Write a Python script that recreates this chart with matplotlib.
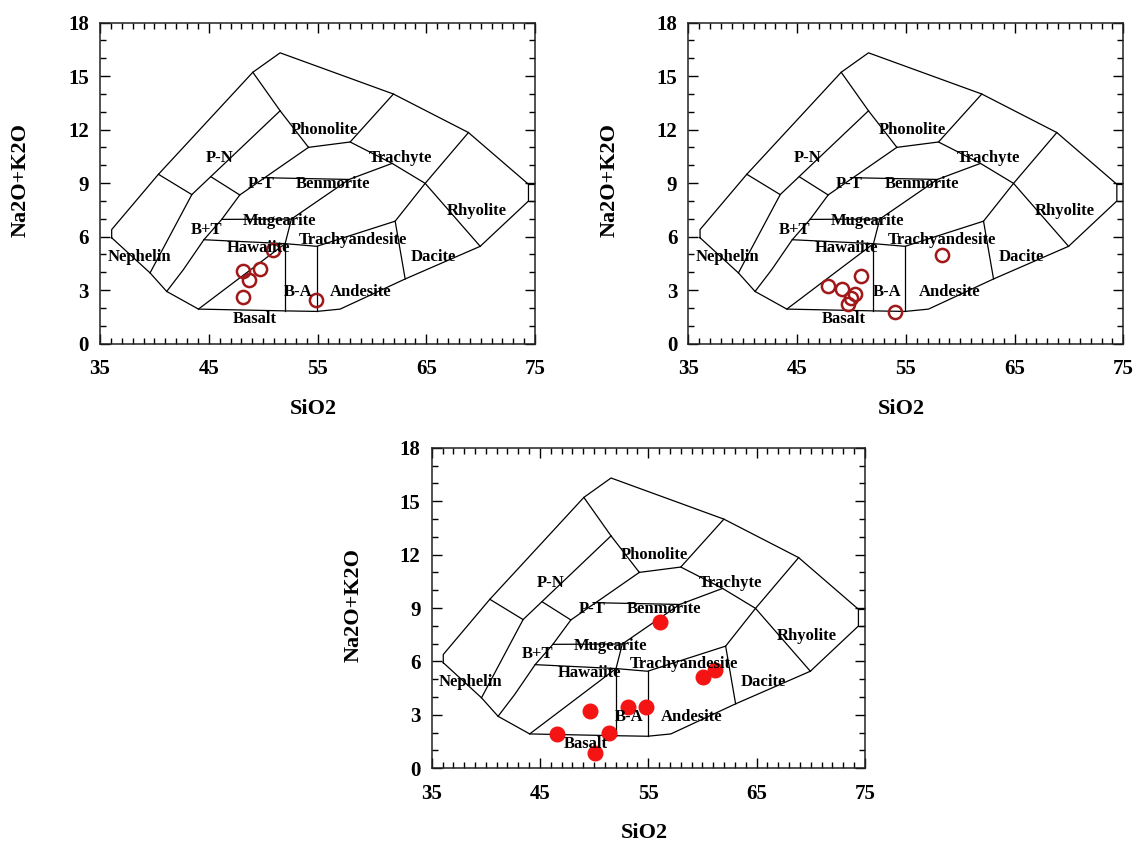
import numpy as np
import matplotlib
matplotlib.use('Agg')
from matplotlib import pyplot as plt

plt.rcParams['font.family'] = ['Liberation Serif', 'DejaVu Serif']
plt.rcParams['font.weight'] = 'bold'

# samples (SiO2, Na2O+K2O)
sio2_a = [50.94, 49.72, 48.13, 48.71, 48.19, 54.87]
alk_a = [5.27, 4.18, 4.05, 3.54, 2.61, 2.42]

sio2_b = [58.30, 50.85, 47.88, 49.17, 50.33, 49.96, 49.72, 54.01]
alk_b = [4.99, 3.80, 3.24, 3.05, 2.79, 2.55, 2.23, 1.74]

sio2_c = [56.08, 61.16, 60.08, 49.62, 53.15, 54.76, 46.60, 51.40, 50.08]
alk_c = [8.24, 5.52, 5.11, 3.24, 3.43, 3.43, 1.93, 2.00, 0.88]

x_ticks = [35, 45, 55, 65, 75]
y_ticks = [0, 3, 6, 9, 12, 15, 18]

# TAS field boundaries (Cox et al. style)
outline = [(36.07, 5.93), (36.07, 6.39), (40.37, 9.49), (49.05, 15.21),
           (51.56, 16.30), (61.98, 13.99), (68.88, 11.83), (74.40, 8.93),
           (74.40, 7.99), (69.96, 5.45), (63.06, 3.62), (57.08, 1.93),
           (54.93, 1.80), (52.02, 1.83), (44.05, 1.93), (41.13, 2.92),
           (39.60, 3.96), (36.07, 5.93)]
boundaries = [
    [(74.40, 8.93), (75.0, 8.93)],
    [(74.40, 7.99), (75.0, 7.99)],
    [(40.37, 9.49), (43.44, 8.35)],
    [(39.60, 3.96), (43.44, 8.35), (51.56, 13.05)],
    [(49.05, 15.21), (51.56, 13.05), (54.17, 11.0)],
    [(45.20, 9.35), (47.85, 8.33)],
    [(41.13, 2.92), (42.66, 4.14), (44.55, 5.82), (46.19, 6.96),
     (47.85, 8.33), (54.17, 11.0)],
    [(54.17, 11.0), (58.0, 11.3), (61.86, 10.1), (64.9, 8.98), (68.88, 11.83)],
    [(58.0, 11.3), (61.98, 13.99)],
    [(49.9, 9.30), (57.9, 9.2)],
    [(46.19, 6.96), (52.6, 6.98)],
    [(52.02, 5.60), (52.6, 6.98), (57.9, 9.2), (61.86, 10.1)],
    [(44.55, 5.82), (52.02, 5.60), (54.93, 5.45), (62.14, 6.86), (64.9, 8.98),
     (69.96, 5.45)],
    [(62.14, 6.86), (63.06, 3.62)],
    [(52.02, 5.60), (52.02, 1.83)],
    [(54.93, 5.45), (54.93, 1.80)],
    [(44.05, 1.93), (52.02, 5.60)],
]
field_names = ['Phonolite', 'P-N', 'Trachyte', 'P-T', 'Benmorite', 'Rhyolite',
               'Mugearite', 'B+T', 'Trachyandesite', 'Hawaiite', 'Nephelin',
               'Dacite', 'B-A', 'Andesite', 'Basalt']
field_x = [55.6, 45.98, 62.6, 49.8, 56.47, 69.6, 51.5, 44.8, 58.3, 49.56,
           38.6, 65.66, 53.25, 58.98, 49.26]
field_y = [11.98, 10.43, 10.39, 8.92, 8.92, 7.42, 6.86, 6.39, 5.83, 5.36,
           4.86, 4.86, 2.87, 2.87, 1.37]


def draw_tas(ax, xlab_y, ylab_x):
    ox, oy = zip(*outline)
    ax.plot(ox, oy, color='black', lw=0.9)
    for seg in boundaries:
        sx, sy = zip(*seg)
        ax.plot(sx, sy, color='black', lw=0.9)
    for name, fx, fy in zip(field_names, field_x, field_y):
        ax.text(fx, fy, name, ha='center', va='center', fontsize=12,
                fontweight='bold')
    ax.set_xlim(35, 75)
    ax.set_ylim(0, 18)
    ax.set_xticks(x_ticks)
    ax.set_yticks(y_ticks)
    ax.set_xticks(np.arange(35, 76, 1), minor=True)
    ax.set_yticks(np.arange(0, 19, 1), minor=True)
    ax.tick_params(which='both', direction='in', top=True, right=True,
                   labelsize=15, width=1)
    ax.tick_params(which='major', length=7)
    ax.tick_params(which='minor', length=4)
    ax.tick_params(axis='x', pad=11)
    ax.tick_params(axis='y', pad=8)
    for lab in ax.get_xticklabels() + ax.get_yticklabels():
        lab.set_fontweight('bold')
    for sp in ax.spines.values():
        sp.set_linewidth(1.1)
        sp.set_color('#222222')
    ax.set_xlabel('SiO2', fontsize=16, fontweight='bold')
    ax.set_ylabel('Na2O+K2O', fontsize=16, fontweight='bold')
    ax.xaxis.set_label_coords(0.49, xlab_y)
    ax.yaxis.set_label_coords(ylab_x, 0.51)


fig = plt.figure(figsize=(11.33, 8.43), dpi=100)
ax1 = fig.add_axes([0.0883, 0.5925, 0.3839, 0.3808])
ax2 = fig.add_axes([0.6076, 0.5925, 0.3839, 0.3808])
ax3 = fig.add_axes([0.3810, 0.0886, 0.3824, 0.3803])

draw_tas(ax1, -0.173, -0.159)
draw_tas(ax2, -0.173, -0.159)
draw_tas(ax3, -0.17, -0.156)

ax1.plot(sio2_a, alk_a, 'o', mfc='none', mec='#A01818', ms=9.5, mew=1.8)
ax2.plot(sio2_b, alk_b, 'o', mfc='none', mec='#A01818', ms=9.5, mew=1.8)
ax3.plot(sio2_c, alk_c, 'o', color='#F41414', ms=10.5)

fig.savefig('out.png', dpi=100)
